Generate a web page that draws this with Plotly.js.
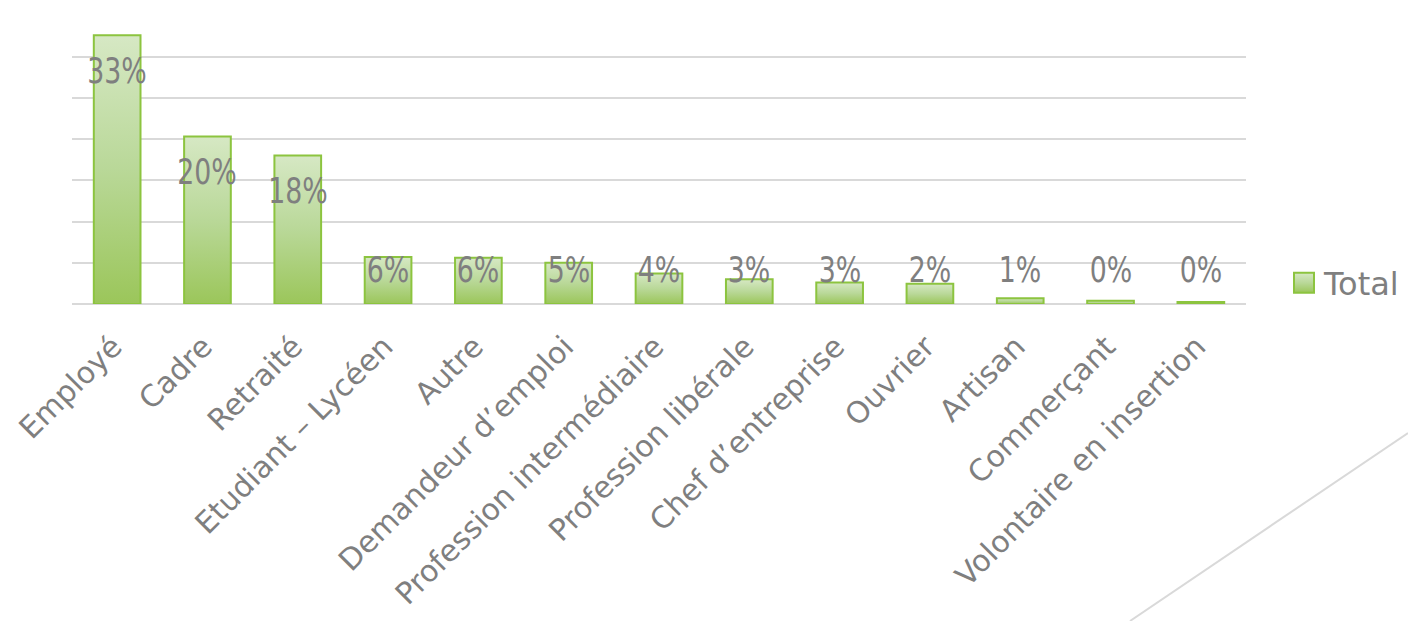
<!DOCTYPE html>
<html>
<head>
<meta charset="utf-8">
<script src="https://cdn.plot.ly/plotly-3.0.1.min.js"></script>
<style>
  html, body { margin: 0; padding: 0; background: #ffffff; }
  #chart { width: 1408px; height: 621px; }
</style>
</head>
<body>
<div id="chart"></div>
<script>
// ---- data ----
const categories = [
  "Employé", "Cadre", "Retraité", "Etudiant – Lycéen", "Autre",
  "Demandeur d’emploi", "Profession intermédiaire", "Profession libérale",
  "Chef d’entreprise", "Ouvrier", "Artisan", "Commerçant", "Volontaire en insertion"
];
const totalValues = [32.6, 20.3, 18.0, 5.7, 5.6, 5.0, 3.7, 3.0, 2.6, 2.45, 0.7, 0.4, 0.25];
const valueLabels = ["33%", "20%", "18%", "6%", "6%", "5%", "4%", "3%", "3%", "2%", "1%", "0%", "0%"];
const seriesName = "Total";

// ---- layout constants ----
const W = 1408, H = 621;
const M = { l: 72, r: 162, t: 15, b: 317, autoexpand: false };
const plotW = W - M.l - M.r, plotH = H - M.t - M.b;
const px2paperX = px => (px - M.l) / plotW;
const px2paperY = py => (H - M.b - py) / plotH;

const gray = "#7f7f7f";
const gridGray = "#d9d9d9";

const trace = {
  type: "bar",
  x: categories,
  y: totalValues,
  name: seriesName,
  marker: {
    color: "#b5d68e",
    line: { color: "#8cc43f", width: 2 }
  },
  hoverinfo: "x+y",
  showlegend: true
};

const annotations = totalValues.map((v, i) => ({
  x: categories[i],
  y: Math.max(v - 4.3, 4.1),
  xref: "x", yref: "y",
  text: valueLabels[i],
  showarrow: false,
  xanchor: "center", yanchor: "middle",
  font: { family: "DejaVu Sans Condensed, DejaVu Sans, sans-serif", size: 35, color: gray }
}));

const layout = {
  width: W, height: H,
  margin: M,
  paper_bgcolor: "#ffffff",
  plot_bgcolor: "#ffffff",
  bargap: 0.483,
  font: { family: "DejaVu Sans, Verdana, sans-serif", color: gray },
  xaxis: {
    type: "category",
    tickangle: -45,
    tickfont: { family: "DejaVu Sans, Verdana, sans-serif", size: 30, color: gray },
    ticks: "",
    ticklabelstandoff: 18,
    ticklabelshift: -4,
    showline: false,
    showgrid: false,
    zeroline: false,
    automargin: false
  },
  yaxis: {
    range: [0, 35.05],
    dtick: 5,
    tick0: 0,
    showticklabels: false,
    ticks: "",
    showgrid: true,
    gridcolor: gridGray,
    gridwidth: 2,
    zeroline: true,
    zerolinecolor: gridGray,
    zerolinewidth: 2,
    showline: false,
    automargin: false
  },
  showlegend: true,
  legend: {
    x: px2paperX(1284),
    y: px2paperY(283),
    xanchor: "left",
    yanchor: "middle",
    font: { family: "DejaVu Sans, Verdana, sans-serif", size: 32, color: gray },
    bgcolor: "rgba(0,0,0,0)"
  },
  annotations: annotations,
  shapes: [{
    type: "line",
    xref: "paper", yref: "paper",
    x0: px2paperX(1130), y0: px2paperY(621),
    x1: px2paperX(1408), y1: px2paperY(433),
    line: { color: gridGray, width: 2 }
  }]
};

Plotly.newPlot("chart", [trace], layout, { staticPlot: true, displayModeBar: false }).then(gd => {
  const svg = gd.querySelector("svg.main-svg");
  const NS = "http://www.w3.org/2000/svg";
  let defs = svg.querySelector("defs");
  if (!defs) { defs = document.createElementNS(NS, "defs"); svg.insertBefore(defs, svg.firstChild); }
  const grad = document.createElementNS(NS, "linearGradient");
  grad.setAttribute("id", "barGrad");
  grad.setAttribute("x1", "0"); grad.setAttribute("y1", "0");
  grad.setAttribute("x2", "0"); grad.setAttribute("y2", "1");
  [["0", "#d6e8c4"], ["0.5", "#b9d898"], ["1", "#9bc65a"]].forEach(([o, c]) => {
    const s = document.createElementNS(NS, "stop");
    s.setAttribute("offset", o); s.setAttribute("stop-color", c);
    grad.appendChild(s);
  });
  defs.appendChild(grad);
  gd.querySelectorAll(".barlayer .point path").forEach(p => {
    p.style.fill = "url(#barGrad)";
  });
  gd.querySelectorAll(".legend .legendpoints path").forEach(p => {
    p.setAttribute("d", "M10,10H-10V-10H10Z");
    p.style.fill = "url(#barGrad)";
  });
  // narrow the data-label glyphs a little, keeping their centre
  gd.querySelectorAll(".annotation-text").forEach(t => {
    const w = t.getComputedTextLength();
    t.setAttribute("textLength", (w * 0.85).toFixed(1));
    t.setAttribute("lengthAdjust", "spacingAndGlyphs");
  });
});
</script>
</body>
</html>
